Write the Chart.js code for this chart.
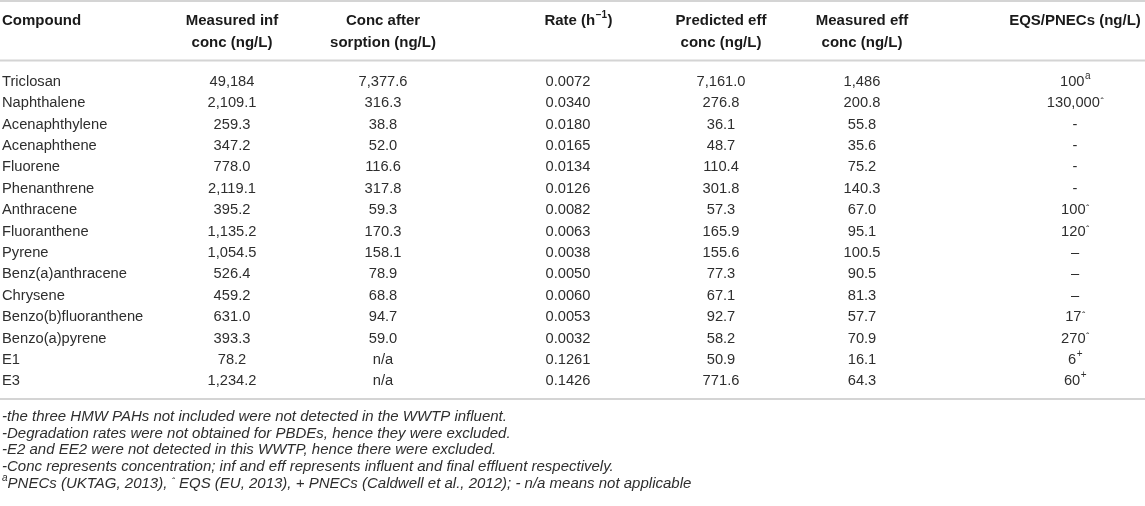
<!DOCTYPE html>
<html>
<head>
<meta charset="utf-8">
<script src="https://cdn.jsdelivr.net/npm/chart.js@4.4.1/dist/chart.umd.min.js"></script>
<style>
  html, body { margin: 0; padding: 0; background: #fff; }
  #wrap { width: 1145px; height: 506px; }
</style>
</head>
<body>
<div id="wrap"><canvas id="tableChart" width="1145" height="506"></canvas></div>
<script>
// Table data
const compounds = ['Triclosan', 'Naphthalene', 'Acenaphthylene', 'Acenaphthene', 'Fluorene', 'Phenanthrene',
  'Anthracene', 'Fluoranthene', 'Pyrene', 'Benz(a)anthracene', 'Chrysene', 'Benzo(b)fluoranthene',
  'Benzo(a)pyrene', 'E1', 'E3'];
const measuredInf = ['49,184', '2,109.1', '259.3', '347.2', '778.0', '2,119.1', '395.2', '1,135.2',
  '1,054.5', '526.4', '459.2', '631.0', '393.3', '78.2', '1,234.2'];
const afterSorption = ['7,377.6', '316.3', '38.8', '52.0', '116.6', '317.8', '59.3', '170.3',
  '158.1', '78.9', '68.8', '94.7', '59.0', 'n/a', 'n/a'];
const rates = ['0.0072', '0.0340', '0.0180', '0.0165', '0.0134', '0.0126', '0.0082', '0.0063',
  '0.0038', '0.0050', '0.0060', '0.0053', '0.0032', '0.1261', '0.1426'];
const predictedEff = ['7,161.0', '276.8', '36.1', '48.7', '110.4', '301.8', '57.3', '165.9',
  '155.6', '77.3', '67.1', '92.7', '58.2', '50.9', '771.6'];
const measuredEff = ['1,486', '200.8', '55.8', '35.6', '75.2', '140.3', '67.0', '95.1',
  '100.5', '90.5', '81.3', '57.7', '70.9', '16.1', '64.3'];
const eqsValues = ['100', '130,000', '-', '-', '-', '-', '100', '120', '–', '–', '–', '17', '270', '6', '60'];
const eqsMarks = ['a', 'ˆ', '', '', '', '', 'ˆ', 'ˆ', '', '', '', 'ˆ', 'ˆ', '+', '+'];

const headers = [
  ['Compound'],
  ['Measured inf', 'conc (ng/L)'],
  ['Conc after', 'sorption (ng/L)'],
  ['Rate (h'],
  ['Predicted eff', 'conc (ng/L)'],
  ['Measured eff', 'conc (ng/L)'],
  ['EQS/PNECs (ng/L)']
];
const footnotes = [
  '-the three HMW PAHs not included were not detected in the WWTP influent.',
  '-Degradation rates were not obtained for PBDEs, hence they were excluded.',
  '-E2 and EE2 were not detected in this WWTP, hence there were excluded.',
  '-Conc represents concentration; inf and eff represents influent and final effluent respectively.'
];

// layout: column anchors on the x scale (pixel units)
const colX = [2, 232, 383, 568, 721, 862, 1075];
const headX = [2, 232, 383, 578, 721, 862, 1075];
const FONT = '"Liberation Sans", Arial, Helvetica, sans-serif';
const BODY = 14.7, HEAD = 15, NOTE = 15;
const columns = [compounds, measuredInf, afterSorption, rates, predictedEff, measuredEff, eqsValues];

function supText(ctx, x, y, base, sup, size, weight, align) {
  ctx.font = `${weight} ${size}px ${FONT}`;
  const wb = ctx.measureText(base).width;
  ctx.font = `${weight} ${size * 0.68}px ${FONT}`;
  const ws = sup ? ctx.measureText(sup).width : 0;
  let x0 = x;
  if (align === 'center') x0 = x - (wb + ws) / 2;
  ctx.textAlign = 'left';
  ctx.font = `${weight} ${size}px ${FONT}`;
  ctx.fillText(base, x0, y);
  if (sup) {
    // the circumflex glyph already sits high, so it needs almost no lift
    const lift = sup === 'ˆ' ? size * 0.02 : size * 0.38;
    ctx.font = `${weight} ${size * 0.68}px ${FONT}`;
    ctx.fillText(sup, x0 + wb + 0.5, y - lift);
  }
}

const tablePlugin = {
  id: 'tablePlugin',
  afterDatasetsDraw(chart) {
    const { ctx, chartArea } = chart;
    ctx.save();
    ctx.textBaseline = 'middle';
    ctx.fillStyle = '#2e2e2e';

    // cells
    chart.data.datasets.forEach((ds, di) => {
      const meta = chart.getDatasetMeta(di);
      meta.data.forEach((pt, i) => {
        const txt = ds.data[i].t;
        if (di === 6) {
          supText(ctx, pt.x, pt.y, txt, eqsMarks[i], BODY, 'normal', 'center');
        } else {
          ctx.font = `normal ${BODY}px ${FONT}`;
          ctx.textAlign = di === 0 ? 'left' : 'center';
          ctx.fillText(txt, pt.x, pt.y);
        }
      });
    });

    // header
    ctx.fillStyle = '#1a1a1a';
    headers.forEach((lines, ci) => {
      lines.forEach((line, li) => {
        const y = 20.5 + li * 22;
        if (ci === 3) {
          ctx.font = `bold ${HEAD}px ${FONT}`;
          const w1 = ctx.measureText('Rate (h').width;
          ctx.font = `bold 10px ${FONT}`;
          const w2 = ctx.measureText('−1').width;
          ctx.font = `bold ${HEAD}px ${FONT}`;
          const w3 = ctx.measureText(')').width;
          let x0 = headX[ci] - (w1 + w2 + w3) / 2;
          ctx.textAlign = 'left';
          ctx.fillText('Rate (h', x0, y);
          ctx.font = `bold 10px ${FONT}`;
          ctx.fillText('−1', x0 + w1 + 0.5, y - 5.5);
          ctx.font = `bold ${HEAD}px ${FONT}`;
          ctx.fillText(')', x0 + w1 + w2 + 1, y);
        } else {
          ctx.font = `bold ${HEAD}px ${FONT}`;
          ctx.textAlign = ci === 0 ? 'left' : 'center';
          ctx.fillText(line, headX[ci], y);
        }
      });
    });

    // rules
    ctx.strokeStyle = '#d4d4d4';
    ctx.lineWidth = 2;
    [1, 60.5, chartArea.bottom + 7].forEach(y => {
      ctx.beginPath();
      ctx.moveTo(0, y);
      ctx.lineTo(chart.width, y);
      ctx.stroke();
    });

    // footnotes
    ctx.fillStyle = '#2e2e2e';
    ctx.textAlign = 'left';
    const fy = chartArea.bottom + 25;
    footnotes.forEach((line, i) => {
      ctx.font = `italic ${NOTE}px ${FONT}`;
      ctx.fillText(line, 2, fy + i * 16.6);
    });
    let y5 = fy + 4 * 16.6;
    let x = 2;
    const parts = [
      ['a', -5], ['PNECs (UKTAG, 2013), ', 0], ['ˆ', 0],
      [' EQS (EU, 2013), + PNECs (Caldwell et al., 2012); - n/a means not applicable', 0]
    ];
    parts.forEach(([t, dy], k) => {
      const small = k === 0 || k === 2;
      ctx.font = small ? `italic 10px ${FONT}` : `italic ${NOTE}px ${FONT}`;
      ctx.fillText(t, x, y5 + dy);
      x += ctx.measureText(t).width;
    });
    ctx.restore();
  }
};

const datasets = columns.map((col, ci) => ({
  label: headers[ci].join(' '),
  data: col.map((t, i) => ({ x: colX[ci], y: compounds[i], t: t })),
  pointRadius: 0,
  showLine: false
}));

new Chart(document.getElementById('tableChart'), {
  type: 'scatter',
  data: { datasets },
  options: {
    responsive: false,
    animation: false,
    devicePixelRatio: 1,
    layout: { padding: { top: 71, bottom: 114, left: 0, right: 0 } },
    plugins: { legend: { display: false }, tooltip: { enabled: false } },
    scales: {
      x: { type: 'linear', min: 0, max: 1145, display: false },
      y: { type: 'category', labels: compounds, offset: true, display: false }
    }
  },
  plugins: [tablePlugin]
});
</script>
</body>
</html>
